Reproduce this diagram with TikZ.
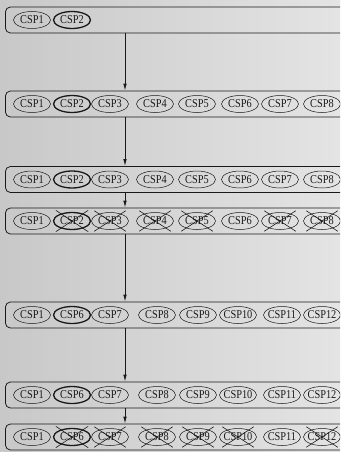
\documentclass[tikz,border=0pt]{standalone}
\usepackage{fontspec}
\setmainfont{Liberation Serif}
\newfontfamily\cspfont[FakeStretch=0.86]{Liberation Serif}
\usetikzlibrary{arrows.meta, positioning, calc, shapes.geometric}
\definecolor{bgleft}{RGB}{200,200,200}
\definecolor{bgright}{RGB}{228,228,228}
\definecolor{inkcolor}{RGB}{25,25,25}

\begin{document}
\begin{tikzpicture}[
    x=1pt, y=-1pt,
    >={Latex[length=7pt,width=3.5pt]},
    stage/.style={draw=inkcolor, rounded corners=5pt, line width=0.8pt, minimum width=345pt, minimum height=26pt, anchor=west, inner sep=0pt},
    csp/.style={draw=inkcolor, ellipse, line width=0.5pt, minimum width=37pt, minimum height=17pt, inner xsep=-4pt, inner ysep=0pt, text=inkcolor, font=\cspfont\fontsize{12}{13}\selectfont},
    cur/.style={csp, line width=1.3pt},
    drop/.style={draw=inkcolor, line width=0.6pt},
]
    % background and frame
    \shade[left color=bgleft, right color=bgright] (0,0) rectangle (340,452);
    \useasboundingbox (0,0) rectangle (340,452);
    \clip (0,0) rectangle (340,452);
    \coordinate (ax) at (125,0);

    % stages
    \node[stage] (r1) at (5,20) {};
    \node[stage] (r2) at (5,104) {};
    \node[stage] (r3) at (5,179.5) {};
    \node[stage] (r4) at (5,221) {};
    \node[stage] (r5) at (5,315) {};
    \node[stage] (r6) at (5,395) {};
    \node[stage] (r7) at (5,437) {};

    % CSP ellipses
    \foreach \x/\n/\s in {32/1/csp, 72/2/cur}
        \node[\s] (c1-\n) at (\x,20) {CSP\n};
    \foreach \r/\y in {2/104, 3/179.5, 4/221}
        \foreach \x/\n/\s in {32/1/csp, 72/2/cur, 110/3/csp, 155/4/csp, 197/5/csp, 240/6/csp, 280/7/csp, 322/8/csp}
            \node[\s] (c\r-\n) at (\x,\y) {CSP\n};
    \foreach \r/\y in {5/315, 6/395, 7/437}
        \foreach \x/\n/\s in {32/1/csp, 72/6/cur, 110/7/csp, 157/8/csp, 198/9/csp, 238/10/csp, 282/11/csp, 322/12/csp}
            \node[\s] (c\r-\n) at (\x,\y) {CSP\n};

    % crossed out
    \foreach \k in {2,3,4,5,7,8} {
        \draw[drop] ($(c4-\k.west |- c4-\k.north)+(3,-1.5)$) -- ($(c4-\k.east |- c4-\k.south)+(-3,1.5)$);
        \draw[drop] ($(c4-\k.east |- c4-\k.north)+(-3,-1.5)$) -- ($(c4-\k.west |- c4-\k.south)+(3,1.5)$);
    }
    \foreach \k in {6,7,8,9,10,12} {
        \draw[drop] ($(c7-\k.west |- c7-\k.north)+(3,-1.5)$) -- ($(c7-\k.east |- c7-\k.south)+(-3,1.5)$);
        \draw[drop] ($(c7-\k.east |- c7-\k.north)+(-3,-1.5)$) -- ($(c7-\k.west |- c7-\k.south)+(3,1.5)$);
    }

    % arrows
    \foreach \a/\b in {r1/r2, r2/r3, r3/r4, r4/r5, r5/r6, r6/r7}
        \draw[->, draw=inkcolor, line width=0.8pt] (\a.south -| ax) -- (\b.north -| ax);
\end{tikzpicture}
\end{document}
